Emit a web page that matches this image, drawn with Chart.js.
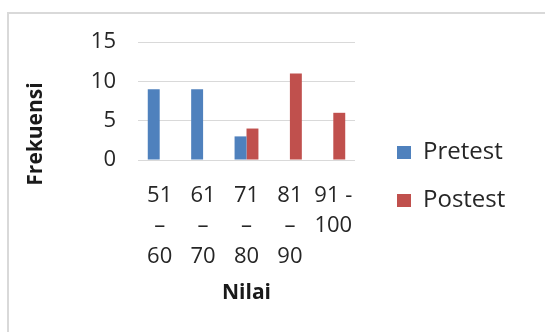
<!DOCTYPE html>
<html>
<head>
<meta charset="utf-8">
<script src="https://cdn.jsdelivr.net/npm/chart.js@4/dist/chart.umd.min.js"></script>
<style>
  html, body { margin: 0; padding: 0; background: #ffffff; }
  #wrap { position: relative; width: 545px; height: 332px; overflow: hidden; }
  #frame { position: absolute; left: 7px; top: 12px; width: 600px; height: 400px;
           border-left: 2px solid #d9d9d9; border-top: 2px solid #d9d9d9; }
  #c { position: absolute; left: 0; top: 0; }
</style>
</head>
<body>
<div id="wrap">
  <div id="frame"></div>
  <canvas id="c" width="545" height="332"></canvas>
</div>
<script>
// Score ranges (each label split into lines as they wrap under the axis)
const categories = [
  ["51", "\u2013", "60"],
  ["61", "\u2013", "70"],
  ["71", "\u2013", "80"],
  ["81", "\u2013", "90"],
  ["91 -", "100"]
];
// Number of students per score range
const pretest = [9, 9, 3, 0, 0];
const postest = [0, 0, 4, 11, 6];
const yTicks = [0, 5, 10, 15];

const FONT = "'Open Sans', 'Liberation Sans', sans-serif";
const TEXT = '#262626';

// Vertical axis title, centred on the plot plus its category labels
const yTitlePlugin = {
  id: 'yTitle',
  afterDraw(chart) {
    const ctx = chart.ctx;
    ctx.save();
    ctx.translate(36, 134);
    ctx.rotate(-Math.PI / 2);
    ctx.font = "bold 21px " + FONT;
    ctx.fillStyle = '#1a1a1a';
    ctx.textAlign = 'center';
    ctx.textBaseline = 'middle';
    ctx.fillText('Frekuensi', 0, 0);
    ctx.restore();
  }
};

// Leave a gap between the plot and the legend column
const legendGapPlugin = {
  id: 'legendGap',
  afterLayout(chart) {
    const lg = chart.legend;
    lg.left += 18;
    lg.right = 545;
    lg.width = lg.right - lg.left;
    lg.top -= 13;
    lg.bottom -= 8;
  }
};

new Chart(document.getElementById('c'), {
  type: 'bar',
  data: {
    labels: categories,
    datasets: [
      { label: 'Pretest', data: pretest, backgroundColor: '#4f81bd', borderWidth: 0 },
      { label: 'Postest', data: postest, backgroundColor: '#c0504d', borderWidth: 0 }
    ]
  },
  options: {
    responsive: false,
    animation: false,
    devicePixelRatio: 1,
    layout: { padding: { left: 0, right: 70, top: 42, bottom: 0 } },
    datasets: { bar: { categoryPercentage: 0.55, barPercentage: 1.0 } },
    plugins: {
      tooltip: { enabled: false },
      legend: {
        position: 'right',
        align: 'center',
        maxWidth: 120,
        labels: {
          boxWidth: 14,
          boxHeight: 13,
          padding: 24,
          color: TEXT,
          font: { family: FONT, size: 24 }
        }
      }
    },
    scales: {
      x: {
        grid: { display: false, drawTicks: false },
        border: { display: false },
        ticks: {
          color: TEXT,
          padding: 20,
          maxRotation: 0,
          autoSkip: false,
          font: { family: FONT, size: 22, lineHeight: 1.4 }
        },
        title: {
          display: true,
          text: 'Nilai',
          color: '#1a1a1a',
          padding: { top: 0, bottom: 26 },
          font: { family: FONT, size: 21, weight: 'bold', lineHeight: 1.2 }
        },
        afterFit(scale) {
          scale.height = 172;
          scale.paddingLeft = 0;
          scale.paddingRight = 0;
        }
      },
      y: {
        min: 0,
        max: 15,
        afterBuildTicks(scale) { scale.ticks = yTicks.map(v => ({ value: v })); },
        grid: { color: '#d9d9d9', lineWidth: 1, drawTicks: false },
        border: { display: false },
        ticks: {
          color: TEXT,
          padding: 22,
          font: { family: FONT, size: 22, lineHeight: 1.4 }
        },
        afterFit(scale) {
          scale.width = 138;
          scale.paddingTop = 0;
          scale.paddingBottom = 0;
        }
      }
    }
  },
  plugins: [yTitlePlugin, legendGapPlugin]
});
</script>
</body>
</html>
